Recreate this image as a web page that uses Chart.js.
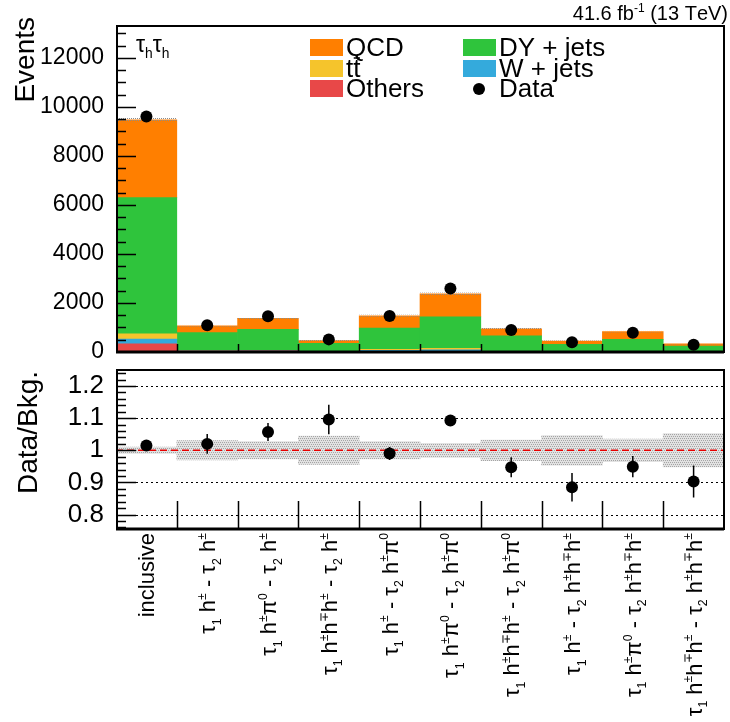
<!DOCTYPE html>
<html>
<head>
<meta charset="utf-8">
<script src="https://cdn.jsdelivr.net/npm/chart.js@4.4.0/dist/chart.umd.min.js"></script>
<style>
  body { margin: 0; background: #fff; width: 730px; height: 722px; position: relative; overflow: hidden; }
  canvas { position: absolute; left: 0; }
  #top { top: 0; }
  #ratio { top: 358px; }
</style>
</head>
<body>
<canvas id="top" width="730" height="358"></canvas>
<canvas id="ratio" width="730" height="364"></canvas>
<script>
// categories: _x = subscript char, ^x = superscript char
const categories = [
    'inclusive',
    'τ_1 h^± - τ_2 h^±',
    'τ_1 h^±π^0 - τ_2 h^±',
    'τ_1 h^±h^∓h^± - τ_2 h^±',
    'τ_1 h^± - τ_2 h^±π^0',
    'τ_1 h^±π^0 - τ_2 h^±π^0',
    'τ_1 h^±h^∓h^± - τ_2 h^±π^0',
    'τ_1 h^± - τ_2 h^±h^∓h^±',
    'τ_1 h^±π^0 - τ_2 h^±h^∓h^±',
    'τ_1 h^±h^∓h^± - τ_2 h^±h^∓h^±'
]

// stacked backgrounds (events), bottom to top
const others = [330, 40, 50, 20, 20, 30, 20, 15, 20, 10]
const wjets  = [200, 10, 10, 5, 50, 60, 5, 5, 5, 5]
const ttbar  = [210, 10, 10, 5, 40, 60, 5, 5, 5, 5]
const dyjets = [5560, 730, 850, 320, 870, 1285, 633, 285, 483, 224]
const qcd    = [3170, 280, 456, 120, 500, 935, 284, 137, 317, 86]

const dataCounts = [9610, 1090, 1455, 515, 1465, 2590, 897, 396, 788, 298]

// ratio panel
const ratio    = [1.015, 1.02, 1.057, 1.096, 0.99, 1.093, 0.947, 0.885, 0.949, 0.903]
const ratioErr = [0.008, 0.031, 0.028, 0.046, 0.02, 0.012, 0.031, 0.044, 0.033, 0.05]
const bkgUnc   = [0.01, 0.03, 0.027, 0.044, 0.027, 0.022, 0.032, 0.046, 0.035, 0.052]

const topTicks = [0, 2000, 4000, 6000, 8000, 10000, 12000]
const ratioTicks = [0.8, 0.9, 1.0, 1.1, 1.2]

const FONT = '"Liberation Sans", Arial, Helvetica, sans-serif'
const colors = {
    qcd: '#ff7f00',
    dy: '#2fc43c',
    tt: '#f5c42c',
    w: '#34aadc',
    others: '#e84848'
}

const totals = categories.map((_, i) => others[i] + wjets[i] + ttbar[i] + dyjets[i] + qcd[i])

function makeHatch(bg, dot) {
    const c = document.createElement('canvas')
    c.width = 4; c.height = 4
    const g = c.getContext('2d')
    if (bg) { g.fillStyle = bg; g.fillRect(0, 0, 4, 4) }
    g.fillStyle = dot
    g.fillRect(0, 0, 1, 1); g.fillRect(2, 0, 1, 1)
    g.fillRect(1, 2, 1, 1); g.fillRect(3, 2, 1, 1)
    return g.createPattern(c, 'repeat')
}

// tiny rich text: _c subscript, ^c superscript
function richParts(str) {
    const parts = []
    for (let i = 0; i < str.length; i++) {
        let c = str[i], mode = 0
        if ((c === '_' || c === '^') && i + 1 < str.length) {
            mode = c === '_' ? -1 : 1
            c = str[++i]
        }
        parts.push({ c, mode })
    }
    return parts
}

function richWidth(ctx, str, size, script) {
    let w = 0
    for (const p of richParts(str)) {
        ctx.font = `${p.mode ? size * script : size}px ${FONT}`
        w += ctx.measureText(p.c).width
    }
    return w
}

function drawRich(ctx, str, x, y, size, script) {
    let cx = x
    for (const p of richParts(str)) {
        const s = p.mode ? size * script : size
        ctx.font = `${s}px ${FONT}`
        const dy = p.mode === 1 ? -size * 0.42 : p.mode === -1 ? size * 0.25 : 0
        ctx.fillText(p.c, cx, y + dy)
        cx += ctx.measureText(p.c).width
    }
    return cx - x
}

function binWidth(x) {
    return (x.right - x.left) / categories.length
}

function drawFrame(ctx, area, bottomWidth) {
    ctx.strokeStyle = '#000'
    ctx.lineWidth = 2
    ctx.strokeRect(area.left + 1, area.top, area.right - area.left - 1, area.bottom - area.top)
    ctx.lineWidth = bottomWidth
    ctx.beginPath()
    ctx.moveTo(area.left, area.bottom)
    ctx.lineTo(area.right, area.bottom)
    ctx.stroke()
}

function drawYTicks(ctx, y, area, start, step, count, isMajor, lenMaj, lenMin) {
    ctx.strokeStyle = '#000'
    ctx.lineWidth = 1.5
    ctx.beginPath()
    for (let k = 0; k <= count; k++) {
        const v = start + step * k
        const py = Math.round(y.getPixelForValue(v)) + 0.5
        if (py < area.top + 1 || py > area.bottom) continue
        ctx.moveTo(area.left, py)
        ctx.lineTo(area.left + (isMajor(v) ? lenMaj : lenMin), py)
    }
    ctx.stroke()
}

function drawXTicks(ctx, x, area, len) {
    const w = binWidth(x)
    ctx.strokeStyle = '#000'
    ctx.lineWidth = 1.5
    ctx.beginPath()
    for (let i = 1; i < categories.length; i++) {
        const px = Math.round(x.getPixelForValue(i) - w / 2) + 0.5
        ctx.moveTo(px, area.bottom)
        ctx.lineTo(px, area.bottom - len)
    }
    ctx.stroke()
}

const topHatch = makeHatch(null, '#8c8c8c')
const ratioHatch = makeHatch('#e2e2e2', '#a4a4a4')

const topDeco = {
    id: 'topDeco',
    afterDatasetDraw(chart, args) {
        // uncertainty band on top of the stack, under the data points
        if (args.index !== 1) return
        const { ctx } = chart
        const x = chart.scales.x, y = chart.scales.y
        const w = binWidth(x)
        ctx.save()
        ctx.fillStyle = topHatch
        totals.forEach((t, i) => {
            const xc = x.getPixelForValue(i)
            const y1 = y.getPixelForValue(t * (1 + bkgUnc[i]))
            const y0 = y.getPixelForValue(t * (1 - bkgUnc[i]))
            ctx.fillRect(xc - w / 2, y1, w, y0 - y1)
        })
        ctx.restore()
    },
    afterDatasetsDraw(chart) {
        const { ctx } = chart
        const x = chart.scales.x, y = chart.scales.y
        ctx.save()
        ctx.strokeStyle = '#000'
        ctx.lineWidth = 1.5
        ctx.beginPath()
        dataCounts.forEach((d, i) => {
            const err = d * ratioErr[i] / ratio[i]
            const xc = x.getPixelForValue(i)
            ctx.moveTo(xc, y.getPixelForValue(d - err))
            ctx.lineTo(xc, y.getPixelForValue(d + err))
        })
        ctx.stroke()
        ctx.restore()
    },
    afterDraw(chart) {
        const { ctx, chartArea: area } = chart
        const x = chart.scales.x, y = chart.scales.y
        ctx.save()
        drawFrame(ctx, area, 3)
        drawYTicks(ctx, y, area, 0, 500, 27, v => v % 2000 === 0, 20, 10)
        drawXTicks(ctx, x, area, 8)

        ctx.fillStyle = '#000'
        ctx.textAlign = 'left'
        ctx.textBaseline = 'alphabetic'

        // axis title
        ctx.save()
        ctx.translate(34, 17)
        ctx.rotate(-Math.PI / 2)
        ctx.font = `28px ${FONT}`
        ctx.textAlign = 'right'
        ctx.fillText('Events', 0, 0)
        ctx.restore()

        // lumi label
        const lumi = '41.6 fb^-^1 (13 TeV)'
        const lw = richWidth(ctx, lumi, 20, 0.6)
        drawRich(ctx, lumi, 728 - lw, 20, 20, 0.6)

        // channel label
        drawRich(ctx, 'τ_hτ_h', 136, 52, 23, 0.6)

        // legend
        const legend = [
            { x: 310, y: 47, color: colors.qcd, text: 'QCD' },
            { x: 310, y: 68, color: colors.tt, text: 'tt', bar: true },
            { x: 310, y: 88, color: colors.others, text: 'Others' },
            { x: 463, y: 47, color: colors.dy, text: 'DY + jets' },
            { x: 463, y: 68, color: colors.w, text: 'W + jets' },
            { x: 463, y: 88, color: null, text: 'Data' }
        ]
        ctx.font = `26px ${FONT}`
        ctx.textBaseline = 'middle'
        legend.forEach(it => {
            if (it.color) {
                ctx.fillStyle = it.color
                ctx.fillRect(it.x, it.y - 8, 33, 17)
            } else {
                ctx.fillStyle = '#000'
                ctx.beginPath()
                ctx.arc(it.x + 16, it.y + 1, 6, 0, Math.PI * 2)
                ctx.fill()
            }
            ctx.fillStyle = '#000'
            ctx.fillText(it.text, it.x + 36, it.y + 2)
            if (it.bar) {
                const tw = ctx.measureText('t').width
                ctx.lineWidth = 1.5
                ctx.beginPath()
                ctx.moveTo(it.x + 36 + tw + 0.5, it.y - 10)
                ctx.lineTo(it.x + 36 + 2 * tw - 0.5, it.y - 10)
                ctx.stroke()
            }
        })
        ctx.restore()
    }
}

const ratioDeco = {
    id: 'ratioDeco',
    beforeDatasetsDraw(chart) {
        const { ctx, chartArea: area } = chart
        const y = chart.scales.y
        ctx.save()
        ctx.strokeStyle = '#000'
        ctx.lineWidth = 1
        ctx.setLineDash([2, 3])
        ctx.beginPath()
        ratioTicks.forEach(v => {
            const py = Math.round(y.getPixelForValue(v)) + 0.5
            ctx.moveTo(area.left, py)
            ctx.lineTo(area.right, py)
        })
        ctx.stroke()
        ctx.restore()
    },
    afterDatasetDraw(chart, args) {
        // red reference line over the bands
        if (args.index !== 1) return
        const { ctx, chartArea: area } = chart
        const py = chart.scales.y.getPixelForValue(1)
        ctx.save()
        ctx.strokeStyle = '#e80000'
        ctx.lineWidth = 1.5
        ctx.setLineDash([7, 4])
        ctx.beginPath()
        ctx.moveTo(area.left, py)
        ctx.lineTo(area.right, py)
        ctx.stroke()
        ctx.restore()
    },
    afterDatasetsDraw(chart) {
        const { ctx } = chart
        const x = chart.scales.x, y = chart.scales.y
        ctx.save()
        ctx.strokeStyle = '#000'
        ctx.lineWidth = 1.5
        ctx.beginPath()
        ratio.forEach((r, i) => {
            const xc = x.getPixelForValue(i)
            ctx.moveTo(xc, y.getPixelForValue(r - ratioErr[i]))
            ctx.lineTo(xc, y.getPixelForValue(r + ratioErr[i]))
        })
        ctx.stroke()
        ctx.restore()
    },
    afterDraw(chart) {
        const { ctx, chartArea: area } = chart
        const x = chart.scales.x, y = chart.scales.y
        ctx.save()
        drawFrame(ctx, area, 3)
        drawYTicks(ctx, y, area, 0.76, 0.02, 24, v => Math.abs(v * 10 - Math.round(v * 10)) < 1e-6, 20, 10)
        drawXTicks(ctx, x, area, 28)

        ctx.fillStyle = '#000'
        ctx.textAlign = 'left'
        ctx.textBaseline = 'alphabetic'

        // axis title
        ctx.save()
        ctx.translate(37, 13)
        ctx.rotate(-Math.PI / 2)
        ctx.font = `28px ${FONT}`
        ctx.textAlign = 'right'
        ctx.fillText('Data/Bkg.', 0, 0)
        ctx.restore()

        // rotated bin labels
        categories.forEach((lab, i) => {
            const xc = x.getPixelForValue(i)
            const w = richWidth(ctx, lab, 22, 0.56)
            ctx.save()
            ctx.translate(xc + 8, area.bottom + 4)
            ctx.rotate(-Math.PI / 2)
            drawRich(ctx, lab, -w, 0, 22, 0.56)
            ctx.restore()
        })
        ctx.restore()
    }
}

const barDefaults = { barPercentage: 1, categoryPercentage: 1, borderWidth: 0 }

new Chart(document.getElementById('top'), {
    type: 'bar',
    data: {
        labels: categories,
        datasets: [
            { type: 'line', label: 'Data', data: dataCounts, stack: 'data', showLine: false,
              pointRadius: 6, pointBackgroundColor: '#000', pointBorderWidth: 0 },
            { label: 'Others', data: others, backgroundColor: colors.others },
            { label: 'W + jets', data: wjets, backgroundColor: colors.w },
            { label: 'tt', data: ttbar, backgroundColor: colors.tt },
            { label: 'DY + jets', data: dyjets, backgroundColor: colors.dy },
            { label: 'QCD', data: qcd, backgroundColor: colors.qcd }
        ]
    },
    options: {
        responsive: false,
        animation: false,
        devicePixelRatio: 1,
        layout: { padding: { top: 26, right: 1, bottom: 3, left: 0 } },
        datasets: { bar: barDefaults },
        plugins: { legend: { display: false }, tooltip: { enabled: false } },
        scales: {
            x: { display: false, stacked: true },
            y: {
                stacked: true, min: 0, max: 13300,
                grid: { display: false }, border: { display: false },
                ticks: { color: '#000', font: { family: FONT, size: 23 }, padding: 4, callback: v => String(v) },
                afterBuildTicks: s => { s.ticks = topTicks.map(v => ({ value: v })) },
                afterFit: s => { s.width = 116; s.paddingTop = 0; s.paddingBottom = 0 }
            }
        }
    },
    plugins: [topDeco]
})

new Chart(document.getElementById('ratio'), {
    type: 'bar',
    data: {
        labels: categories,
        datasets: [
            { type: 'line', label: 'Data/Bkg.', data: ratio, showLine: false,
              pointRadius: 6, pointBackgroundColor: '#000', pointBorderWidth: 0 },
            { label: 'Bkg. unc.', data: bkgUnc.map(u => [1 - u, 1 + u]), backgroundColor: ratioHatch }
        ]
    },
    options: {
        responsive: false,
        animation: false,
        devicePixelRatio: 1,
        layout: { padding: { top: 12, right: 1, bottom: 193, left: 0 } },
        datasets: { bar: barDefaults },
        plugins: { legend: { display: false }, tooltip: { enabled: false } },
        scales: {
            x: { display: false },
            y: {
                min: 0.755, max: 1.25,
                grid: { display: false }, border: { display: false },
                ticks: { color: '#000', font: { family: FONT, size: 26 }, padding: 4, callback: v => String(v) },
                afterBuildTicks: s => { s.ticks = ratioTicks.map(v => ({ value: v })) },
                afterFit: s => { s.width = 116; s.paddingTop = 0; s.paddingBottom = 0 }
            }
        }
    },
    plugins: [ratioDeco]
})
</script>
</body>
</html>
